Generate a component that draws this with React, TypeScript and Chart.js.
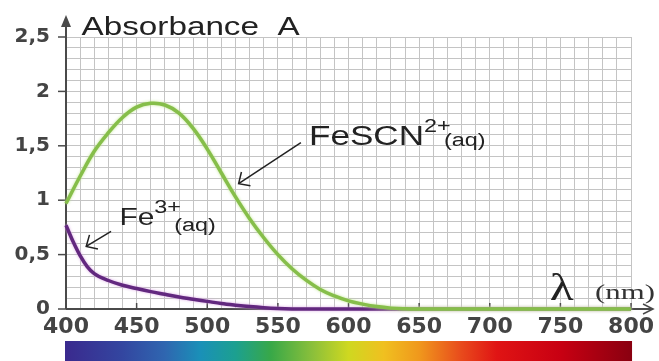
import React, { useEffect, useRef } from "react";
import { Chart, registerables } from "chart.js";

Chart.register(...registerables);

// ---- data ----
const wavelengthsFeSCN = [
  400, 410, 420, 430, 440, 450, 460, 470, 480, 490, 500, 510, 520, 530, 540, 550, 560, 570, 580, 590,
  600, 610, 620, 630, 640, 650, 660, 670, 680, 690, 700, 710, 720, 730, 740, 750, 760, 770, 780, 790, 800,
];
const absorbanceFeSCN = [
  0.97, 1.22, 1.45, 1.62, 1.76, 1.855, 1.89, 1.875, 1.8, 1.66, 1.47, 1.25, 1.03, 0.83, 0.655, 0.5, 0.37, 0.265, 0.18, 0.12,
  0.075, 0.045, 0.022, 0.008, 0.002, 0, 0, 0, 0, 0, 0, 0, 0, 0, 0, 0, 0, 0, 0, 0, 0,
];

const wavelengthsFe = [
  400, 405, 410, 415, 420, 430, 440, 450, 460, 470, 480, 490, 500, 510, 520, 530, 540, 550, 560, 570,
  580, 600, 650, 700, 750, 800,
];
const absorbanceFe = [
  0.77, 0.62, 0.49, 0.39, 0.325, 0.262, 0.218, 0.188, 0.16, 0.135, 0.11, 0.09, 0.07, 0.05, 0.035, 0.022, 0.012, 0.005, 0.001, 0,
  0, 0, 0, 0, 0, 0,
];

const xTickValues = [400, 450, 500, 550, 600, 650, 700, 750, 800];
const xTickLabels = ["400", "450", "500", "550", "600", "650", "700", "750", "800"];
const yTickValues = [0, 0.5, 1, 1.5, 2, 2.5];
const yTickLabels = ["0", "0,5", "1", "1,5", "2", "2,5"];

const spectrumWavelengths = [400, 440, 470, 495, 520, 545, 575, 600, 625, 650, 680, 705, 750, 800];
const spectrumColors = [
  "#3a2a8e", "#3346a0", "#2f66b0", "#1a90b8", "#1ca090", "#38a848", "#8cc03a",
  "#cfd820", "#f0c020", "#f0981c", "#e84a1c", "#e01414", "#c80012", "#8a0010",
];

const SX = 1.3; // horizontal stretch of the reference lettering

function stretchedText(ctx: CanvasRenderingContext2D, text: string, x: number, y: number, font: string, sx: number) {
  ctx.save();
  ctx.font = font;
  const w = ctx.measureText(text).width * sx;
  ctx.translate(x, y);
  ctx.scale(sx, 1);
  ctx.fillText(text, 0, 0);
  ctx.restore();
  return w;
}

function drawArrow(ctx: CanvasRenderingContext2D, fx: number, fy: number, tx: number, ty: number) {
  const ang = Math.atan2(fy - ty, fx - tx);
  const len = 12;
  ctx.beginPath();
  ctx.moveTo(fx, fy);
  ctx.lineTo(tx, ty);
  ctx.moveTo(tx + len * Math.cos(ang - 0.75), ty + len * Math.sin(ang - 0.75));
  ctx.lineTo(tx, ty);
  ctx.lineTo(tx + len * Math.cos(ang + 0.75), ty + len * Math.sin(ang + 0.75));
  ctx.stroke();
}

function chemLabel(
  ctx: CanvasRenderingContext2D,
  main: string,
  sup: string,
  sub: string,
  x: number,
  y: number,
  mainSize: number,
  smallSize: number,
  supDy: number,
  subDy: number
) {
  const wMain = stretchedText(ctx, main, x, y, `${mainSize}px "Liberation Sans", Arial, sans-serif`, SX);
  const wSup = stretchedText(ctx, sup, x + wMain, y + supDy, `${smallSize}px "Liberation Sans", Arial, sans-serif`, SX);
  stretchedText(ctx, sub, x + wMain + wSup * 0.75, y + subDy, `${smallSize}px "Liberation Sans", Arial, sans-serif`, SX);
}

const glowColors = ["rgba(190,228,140,0.95)", "rgba(215,160,225,0.9)"];

const decorPlugin = {
  id: "decor",
  beforeDatasetsDraw(chart: any) {
    const { ctx, scales } = chart;
    const xs = scales.x;
    const ys = scales.y;
    const x0 = xs.getPixelForValue(400);
    const x1 = xs.getPixelForValue(800);
    const y0 = ys.getPixelForValue(0);
    const yTop = ys.getPixelForValue(2.5);
    ctx.save();
    ctx.strokeStyle = "#4a4a4a";
    ctx.fillStyle = "#4a4a4a";
    ctx.lineWidth = 2;
    // y axis with arrow
    ctx.beginPath();
    ctx.moveTo(x0, y0);
    ctx.lineTo(x0, yTop - 12);
    ctx.stroke();
    ctx.beginPath();
    ctx.moveTo(x0, yTop - 22);
    ctx.lineTo(x0 - 5, yTop - 10);
    ctx.lineTo(x0 + 5, yTop - 10);
    ctx.closePath();
    ctx.fill();
    // x axis with arrow
    ctx.beginPath();
    ctx.moveTo(x0, y0);
    ctx.lineTo(x1 + 22, y0);
    ctx.stroke();
    ctx.lineWidth = 1.5;
    ctx.beginPath();
    ctx.moveTo(x1 + 12, y0 - 5);
    ctx.lineTo(x1 + 22, y0);
    ctx.lineTo(x1 + 12, y0 + 5);
    ctx.stroke();
    // tick marks
    ctx.lineWidth = 1.5;
    yTickValues.forEach((v) => {
      const p = ys.getPixelForValue(v);
      ctx.beginPath();
      ctx.moveTo(x0 - 8, p);
      ctx.lineTo(x0, p);
      ctx.stroke();
    });
    xTickValues.forEach((v) => {
      const p = xs.getPixelForValue(v);
      ctx.beginPath();
      ctx.moveTo(p, y0 - 6);
      ctx.lineTo(p, y0);
      ctx.stroke();
    });
    ctx.restore();
  },
  beforeDatasetDraw(chart: any, args: any) {
    const ctx = chart.ctx;
    ctx.save();
    ctx.shadowColor = glowColors[args.index] || "transparent";
    ctx.shadowBlur = 3;
  },
  afterDatasetDraw(chart: any) {
    chart.ctx.restore();
  },
  afterDraw(chart: any) {
    const { ctx, scales } = chart;
    const xs = scales.x;
    const ys = scales.y;
    const px = (v: number) => xs.getPixelForValue(v);
    const py = (v: number) => ys.getPixelForValue(v);
    ctx.save();
    // spectrum bar
    const gx0 = px(400);
    const gx1 = px(800);
    const grad = ctx.createLinearGradient(gx0, 0, gx1, 0);
    spectrumWavelengths.forEach((w, i) => grad.addColorStop((w - 400) / 400, spectrumColors[i]));
    ctx.fillStyle = grad;
    ctx.fillRect(gx0 - 1, 341, gx1 - gx0 + 2, 20);

    ctx.fillStyle = "#222";
    ctx.textBaseline = "alphabetic";
    // axis titles
    stretchedText(ctx, "Absorbance  A", px(411), py(2.52), `25px "Liberation Sans", Arial, sans-serif`, 1.33);
    stretchedText(ctx, "λ", px(742.5), py(0.085), `38px "Liberation Serif", "Times New Roman", serif`, SX);
    ctx.fillStyle = "#333";
    stretchedText(ctx, "(nm)", px(774.5), py(0.095), `22px "Liberation Serif", "Times New Roman", serif`, 1.4);

    // species labels
    ctx.fillStyle = "#222";
    chemLabel(ctx, "FeSCN", "2+", "(aq)", px(572), py(1.51), 27, 18, -13, 1);
    chemLabel(ctx, "Fe", "3+", "(aq)", px(437.8), py(0.775), 23, 18, -12, 6);

    // pointer arrows
    ctx.strokeStyle = "#222";
    ctx.lineWidth = 1.5;
    drawArrow(ctx, px(566.3), py(1.53), px(522.2), py(1.152));
    drawArrow(ctx, px(431.9), py(0.713), px(414.3), py(0.575));
    ctx.restore();
  },
};

export default function App() {
  const ref = useRef<HTMLCanvasElement>(null);
  useEffect(() => {
    if (!ref.current) return;
    const tickFont = { family: '"DejaVu Sans", sans-serif', weight: "bold" as const };
    const chart = new Chart(ref.current, {
      type: "line",
      data: {
        datasets: [
          {
            label: "FeSCN2+(aq)",
            data: wavelengthsFeSCN.map((w, i) => ({ x: w, y: absorbanceFeSCN[i] })),
            borderColor: "#86be4a",
            borderWidth: 3.5,
            pointRadius: 0,
            tension: 0.4,
            fill: false,
            clip: 8,
          },
          {
            label: "Fe3+(aq)",
            data: wavelengthsFe.map((w, i) => ({ x: w, y: absorbanceFe[i] })),
            borderColor: "#62287f",
            borderWidth: 3.5,
            pointRadius: 0,
            cubicInterpolationMode: "monotone",
            fill: false,
            clip: 8,
          },
        ],
      },
      options: {
        responsive: false,
        animation: false,
        events: [],
        layout: { padding: { top: 37, right: 26, left: 0, bottom: 0 } },
        plugins: { legend: { display: false }, tooltip: { enabled: false } },
        scales: {
          x: {
            type: "linear",
            min: 400,
            max: 800,
            afterFit: (s: any) => {
              s.height = 52;
            },
            grid: { color: "#c4c4c4", lineWidth: 1, drawTicks: false },
            border: { display: false },
            ticks: {
              stepSize: 10,
              autoSkip: false,
              maxRotation: 0,
              padding: 5,
              color: "#444",
              font: { ...tickFont, size: 22 },
              callback: (v: any) => {
                const i = xTickValues.indexOf(Number(v));
                return i >= 0 ? xTickLabels[i] : "";
              },
            },
          },
          y: {
            type: "linear",
            min: 0,
            max: 2.5,
            afterFit: (s: any) => {
              s.width = 66;
            },
            grid: { color: "#c4c4c4", lineWidth: 1, drawTicks: false },
            border: { display: false },
            ticks: {
              stepSize: 0.1,
              autoSkip: false,
              padding: 16,
              color: "#444",
              font: { ...tickFont, size: 20 },
              callback: (v: any) => {
                const i = yTickValues.findIndex((t) => Math.abs(t - Number(v)) < 1e-6);
                return i >= 0 ? yTickLabels[i] : "";
              },
            },
          },
        },
      },
      plugins: [decorPlugin],
    });
    return () => chart.destroy();
  }, []);

  return (
    <div style={{ position: "absolute", left: 0, top: 0, width: 659, height: 361, background: "#fff" }}>
      <canvas ref={ref} width={659} height={361} />
    </div>
  );
}
